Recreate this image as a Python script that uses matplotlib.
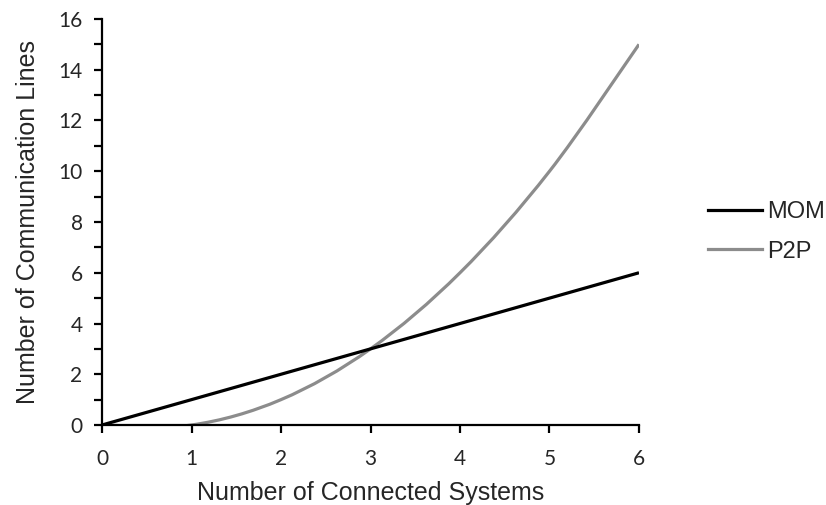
import matplotlib
matplotlib.use("Agg")
import matplotlib.pyplot as plt
from matplotlib.path import Path
from matplotlib.patches import PathPatch
from matplotlib.lines import Line2D

systems = [0, 1, 2, 3, 4, 5, 6]
mom = [0, 1, 2, 3, 4, 5, 6]
p2p = [0, 0, 1, 3, 6, 10, 15]


def smooth_path(xs, ys):
    # Excel-style smoothed line: Bezier segments through the data points
    pts = list(zip(xs, ys))
    verts = [pts[0]]
    codes = [Path.MOVETO]
    n = len(pts)
    for i in range(n - 1):
        p0 = pts[max(i - 1, 0)]
        p1 = pts[i]
        p2 = pts[i + 1]
        p3 = pts[min(i + 2, n - 1)]
        c1 = (p1[0] + (p2[0] - p0[0]) / 6, p1[1] + (p2[1] - p0[1]) / 6)
        c2 = (p2[0] - (p3[0] - p1[0]) / 6, p2[1] - (p3[1] - p1[1]) / 6)
        verts += [c1, c2, p2]
        codes += [Path.CURVE4] * 3
    return Path(verts, codes)


fig = plt.figure(figsize=(8.26, 5.05), dpi=100)
ax = fig.add_axes([0.1235, 0.1584, 0.6501, 0.804])

black = "#000000"
grey = "#8c8c8c"

ax.plot(systems, mom, color=black, lw=2.3, solid_capstyle="butt", zorder=3)
ax.add_patch(PathPatch(smooth_path(systems, p2p), facecolor="none",
                       edgecolor=grey, lw=2.3, zorder=2))

ax.set_xlim(0, 6)
ax.set_ylim(0, 16)
ax.set_xticks(range(0, 7))
ax.set_yticks(range(0, 17, 2))
ax.set_yticks(range(1, 17, 2), minor=True)

for s in ["top", "right"]:
    ax.spines[s].set_visible(False)
for s in ["left", "bottom"]:
    ax.spines[s].set_linewidth(1.6)
    ax.spines[s].set_color("#000000")

ax.tick_params(axis="both", which="both", direction="out", width=1.6,
               length=6, colors="#000000")
ax.tick_params(axis="y", labelsize=15, labelcolor="#262626", pad=8)
ax.tick_params(axis="x", labelsize=15, labelcolor="#262626", pad=11)
for lab in ax.get_xticklabels() + ax.get_yticklabels():
    lab.set_family("Lato")

ax.set_xlabel("Number of Connected Systems", family="Liberation Sans",
              fontsize=18, color="#262626", labelpad=9)
ax.set_ylabel("Number of Communication Lines", family="Liberation Sans",
              fontsize=18, color="#262626", labelpad=13)

handles = [Line2D([], [], color=black, lw=2.3),
           Line2D([], [], color=grey, lw=2.3)]
fig.legend(handles, ["MOM", "P2P"], loc="center left",
           bbox_to_anchor=(0.857, 0.541), frameon=False,
           borderpad=0, borderaxespad=0,
           prop={"family": "Liberation Sans", "size": 17},
           handlelength=2.3, handletextpad=0.2, labelspacing=0.75,
           labelcolor="#262626")

fig.savefig("out.png", dpi=100)
